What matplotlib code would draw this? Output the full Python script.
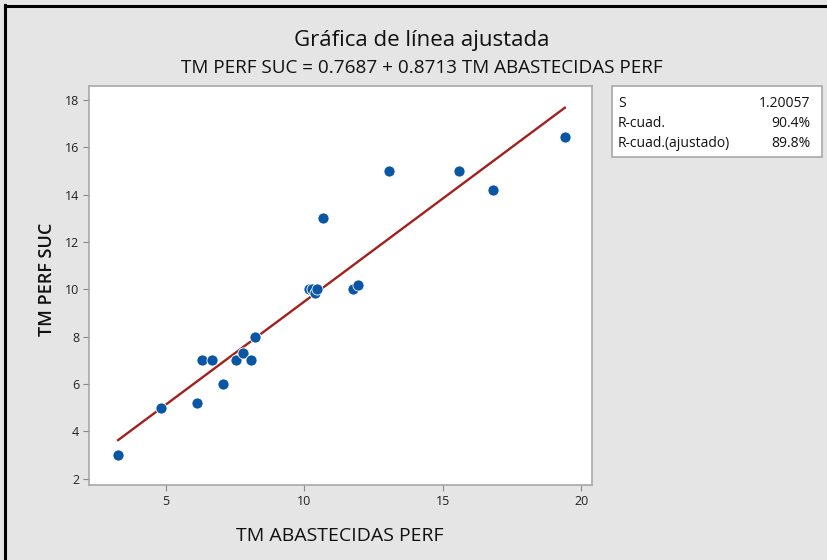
import matplotlib
matplotlib.use("Agg")
import matplotlib.pyplot as plt
import numpy as np
from matplotlib.patches import Rectangle

plt.rcParams['font.family'] = ['Open Sans', 'DejaVu Sans']

x_vals = [3.28, 4.83, 6.13, 6.29, 6.67, 7.07, 7.54, 7.80, 8.07, 8.22,
          10.17, 10.29, 10.38, 10.44, 10.69, 11.76, 11.95, 13.04, 15.57, 16.79, 19.40]
y_vals = [3.0, 5.0, 5.2, 7.0, 7.0, 6.0, 7.0, 7.3, 7.0, 8.0,
          10.0, 10.0, 9.85, 10.0, 13.0, 10.0, 10.2, 15.0, 15.0, 14.2, 16.45]
intercept = 0.7687
slope = 0.8713
stat_names = ["S", "R-cuad.", "R-cuad.(ajustado)"]
stat_values = ["1.20057", "90.4%", "89.8%"]
x_ticks = [5, 10, 15, 20]
y_ticks = [2, 4, 6, 8, 10, 12, 14, 16, 18]

bg = '#e5e5e5'
fig = plt.figure(figsize=(8.27, 5.6), dpi=100, facecolor=bg)

# black border left and top
fig.add_artist(plt.Line2D([5/827, 5/827], [0, 1 - 5/560], transform=fig.transFigure,
                          color='black', lw=2.2))
fig.add_artist(plt.Line2D([5/827, 1], [1 - 6/560, 1 - 6/560], transform=fig.transFigure,
                          color='black', lw=2.2))

ax = fig.add_axes([89/827, 1 - 485/560, (592 - 89)/827, (485 - 86)/560])
ax.set_facecolor('white')
xs = np.array([min(x_vals), max(x_vals)])
ax.plot(xs, intercept + slope * xs, color='#a3201d', lw=1.7, zorder=2)
ax.scatter(x_vals, y_vals, s=64, color='#0b56a4', edgecolor='white', linewidth=0.6, zorder=3)

ax.set_xlim(2.23, 20.38)
ax.set_ylim(1.73, 18.59)
ax.set_xticks(x_ticks)
ax.set_yticks(y_ticks)
for sp in ax.spines.values():
    sp.set_color('#a8a8a8')
    sp.set_linewidth(1.2)
ax.tick_params(direction='out', length=4, color='#8a8a8a', labelsize=9, labelcolor='#222222', pad=3)

fig.text(340/827, 1 - 541/560, 'TM ABASTECIDAS PERF', ha='center', va='baseline',
         fontsize=14, color='#111111')
fig.text(47/827, 1 - 279/560, 'TM PERF SUC', ha='center', va='center', rotation=90,
         fontsize=13, color='#111111', fontweight='semibold')

fig.text(422/827, 1 - 46/560, 'Gráfica de línea ajustada', ha='center', va='baseline',
         fontsize=16, color='#111111', fontweight='medium')
fig.text(422/827, 1 - 73/560, 'TM PERF SUC = 0.7687 + 0.8713 TM ABASTECIDAS PERF',
         ha='center', va='baseline', fontsize=13.6, color='#111111')

# stats box
bx0, by0, bx1, by1 = 612, 86, 822, 157
fig.add_artist(Rectangle((bx0/827, 1 - by1/560), (bx1 - bx0)/827, (by1 - by0)/560,
                         transform=fig.transFigure, facecolor='white', edgecolor='#a8a8a8', lw=1.2))
row_y = [107, 127, 147]
for name, val, ry in zip(stat_names, stat_values, row_y):
    fig.text(618/827, 1 - ry/560, name, ha='left', va='baseline', fontsize=10, color='#111111')
    fig.text(810/827, 1 - ry/560, val, ha='right', va='baseline', fontsize=10, color='#111111')

fig.savefig('out.png', dpi=100, facecolor=bg)
